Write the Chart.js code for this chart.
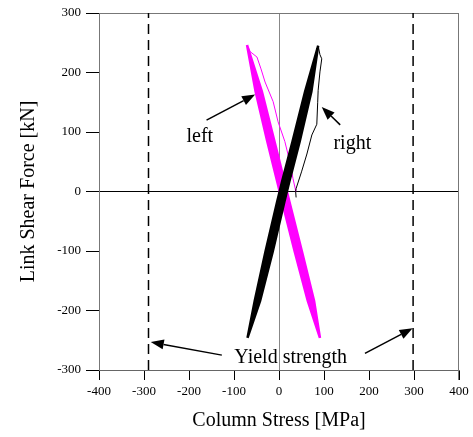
<!DOCTYPE html>
<html>
<head>
<meta charset="utf-8">
<script src="https://cdn.jsdelivr.net/npm/chart.js@4.4.1/dist/chart.umd.min.js"></script>
<style>
    html, body { margin: 0; padding: 0; background: #fff; }
    #wrap { width: 473px; height: 437px; }
</style>
</head>
<body>
<div id="wrap"><canvas id="chart"></canvas></div>
<script>
// hysteresis bands: repeated cycles [stress MPa, shear kN]
var rightBand = [
    [-70, -246], [-54, -184], [-30, -101], [-4, -17], [7, 17], [30, 84], [58, 168], [87, 245],
    [72, 168], [46, 84], [23, 17], [12, -17], [-14, -101], [-42, -184], [-70, -246],
    [-51, -184], [-26, -101], [0, -17], [11, 17], [34, 84], [61, 168], [86, 242],
    [68, 168], [42, 84], [19, 17], [8, -17], [-18, -101], [-45, -184], [-69, -243],
    [-48, -184], [-22, -101], [4, -17], [15, 17], [38, 84], [65, 168], [85, 240]
];
var leftBand = [
    [-71, 246], [-38, 168], [-10, 84], [12, 17], [23, -17], [51, -101], [78, -184], [91, -246],
    [64, -184], [35, -101], [7, -17], [-4, 17], [-26, 84], [-52, 168], [-71, 246],
    [-41, 168], [-14, 84], [8, 17], [19, -17], [47, -101], [74, -184], [90, -243],
    [67, -184], [39, -101], [11, -17], [0, 17], [-22, 84], [-48, 168], [-70, 243],
    [-45, 168], [-18, 84], [4, 17], [15, -17], [43, -101], [71, -184], [89, -240]
];
// first unloading branches
var rightFirst = [
    [87, 245], [91, 230], [95, 223], [91, 201], [87, 170], [86, 150], [84, 113],
    [73, 95], [62, 63], [50, 33], [38, 5], [37, 0], [38, -10]
];
var leftFirst = [
    [-71, 246], [-64, 235], [-49, 226], [-40, 206], [-31, 184], [-13, 151], [-2, 117],
    [13, 84], [24, 50], [31, 22], [36, 5], [37, 0]
];
var yieldStress = [-290, 298];
var xTicks = [-400, -300, -200, -100, 0, 100, 200, 300, 400];
var yTicks = [-300, -200, -100, 0, 100, 200, 300];

// arrows [fromX, fromY, toX, toY] and labels in data units
var arrows = [
    [-161, 120, -53, 163],
    [136, 112, 95, 142],
    [-127, -275, -285, -253],
    [191, -272, 297, -230]
];
var notes = [
    ['left', -176, 84],
    ['right', 163, 71.5],
    ['Yield strength', 26, -288]
];

var serif = '"Liberation Serif", "Times New Roman", serif';

function pts(list) {
    return list.map(function(p) { return { x: p[0], y: p[1] }; });
}

var framePlugin = {
    id: 'frame',
    beforeDatasetsDraw: function(chart) {
        var a = chart.chartArea;
        var c = chart.ctx;
        c.save();
        c.strokeStyle = '#777';
        c.lineWidth = 1;
        c.beginPath();
        c.moveTo(a.left, a.top + 0.5);
        c.lineTo(a.right, a.top + 0.5);
        c.moveTo(a.right - 0.5, a.top);
        c.lineTo(a.right - 0.5, a.bottom + 10);
        c.stroke();
        c.restore();
    }
};

var notesPlugin = {
    id: 'notes',
    afterDatasetsDraw: function(chart) {
        var c = chart.ctx;
        var sx = chart.scales.x, sy = chart.scales.y;
        c.save();
        c.strokeStyle = '#000';
        c.fillStyle = '#000';
        c.lineWidth = 1.5;
        arrows.forEach(function(ar) {
            var x1 = sx.getPixelForValue(ar[0]), y1 = sy.getPixelForValue(ar[1]);
            var x2 = sx.getPixelForValue(ar[2]), y2 = sy.getPixelForValue(ar[3]);
            var ang = Math.atan2(y2 - y1, x2 - x1);
            var len = 13, half = 5;
            var bx = x2 - len * Math.cos(ang), by = y2 - len * Math.sin(ang);
            c.beginPath();
            c.moveTo(x1, y1);
            c.lineTo(bx, by);
            c.stroke();
            c.beginPath();
            c.moveTo(x2, y2);
            c.lineTo(bx + half * Math.sin(ang), by - half * Math.cos(ang));
            c.lineTo(bx - half * Math.sin(ang), by + half * Math.cos(ang));
            c.closePath();
            c.fill();
        });
        c.font = '20px ' + serif;
        c.textAlign = 'center';
        c.textBaseline = 'alphabetic';
        notes.forEach(function(n) {
            c.fillText(n[0], sx.getPixelForValue(n[1]), sy.getPixelForValue(n[2]));
        });
        c.restore();
    }
};

var ctx = document.getElementById('chart').getContext('2d');
var chart = new Chart(ctx, {
    type: 'scatter',
    data: {
        datasets: [
            {
                label: 'right',
                data: pts(rightBand),
                showLine: true,
                borderColor: '#000',
                borderWidth: 2.5,
                pointRadius: 0,
                order: 0
            },
            {
                label: 'right first',
                data: pts(rightFirst),
                showLine: true,
                borderColor: '#000',
                borderWidth: 1,
                pointRadius: 0,
                order: 1
            },
            {
                label: 'left',
                data: pts(leftBand),
                showLine: true,
                borderColor: '#ff00ff',
                borderWidth: 2.5,
                pointRadius: 0,
                order: 2
            },
            {
                label: 'left first',
                data: pts(leftFirst),
                showLine: true,
                borderColor: '#ff00ff',
                borderWidth: 1,
                pointRadius: 0,
                order: 3
            },
            {
                label: 'yield -',
                data: [{ x: yieldStress[0], y: -300 }, { x: yieldStress[0], y: 300 }],
                showLine: true,
                borderColor: '#000',
                borderWidth: 1.5,
                borderDash: [10, 6],
                pointRadius: 0,
                order: 4
            },
            {
                label: 'yield +',
                data: [{ x: yieldStress[1], y: -300 }, { x: yieldStress[1], y: 300 }],
                showLine: true,
                borderColor: '#000',
                borderWidth: 1.5,
                borderDash: [10, 6],
                pointRadius: 0,
                order: 5
            }
        ]
    },
    options: {
        responsive: true,
        maintainAspectRatio: false,
        animation: false,
        layout: { padding: { top: 13, right: 14, left: 0, bottom: 0 } },
        plugins: {
            legend: { display: false },
            tooltip: { enabled: false }
        },
        scales: {
            x: {
                type: 'linear',
                min: -400,
                max: 400,
                afterFit: function(s) { s.height = 67; },
                afterBuildTicks: function(s) {
                    s.ticks = xTicks.map(function(v) { return { value: v }; });
                },
                border: { display: true, color: '#666', width: 1 },
                grid: {
                    drawOnChartArea: true,
                    drawTicks: true,
                    tickLength: 10,
                    tickColor: '#000',
                    color: function(c) { return c.tick && c.tick.value === 0 ? '#888' : 'rgba(0,0,0,0)'; }
                },
                ticks: {
                    color: '#000',
                    padding: 4,
                    maxRotation: 0,
                    font: { family: serif, size: 13 }
                },
                title: {
                    display: true,
                    text: 'Column Stress [MPa]',
                    color: '#000',
                    padding: { top: 0, bottom: 4 },
                    font: { family: serif, size: 20 }
                }
            },
            y: {
                type: 'linear',
                min: -300,
                max: 300,
                afterFit: function(s) { s.width = 99; },
                afterBuildTicks: function(s) {
                    s.ticks = yTicks.map(function(v) { return { value: v }; });
                },
                border: { display: true, color: '#777', width: 1 },
                grid: {
                    drawOnChartArea: true,
                    drawTicks: true,
                    tickLength: 13,
                    tickColor: '#000',
                    color: function(c) { return c.tick && c.tick.value === 0 ? '#000' : 'rgba(0,0,0,0)'; }
                },
                ticks: {
                    color: '#000',
                    padding: 5,
                    font: { family: serif, size: 13 }
                },
                title: {
                    display: true,
                    text: 'Link Shear Force [kN]',
                    color: '#000',
                    padding: { top: 17, bottom: 0 },
                    font: { family: serif, size: 20 }
                }
            }
        }
    },
    plugins: [framePlugin, notesPlugin]
});
</script>
</body>
</html>
